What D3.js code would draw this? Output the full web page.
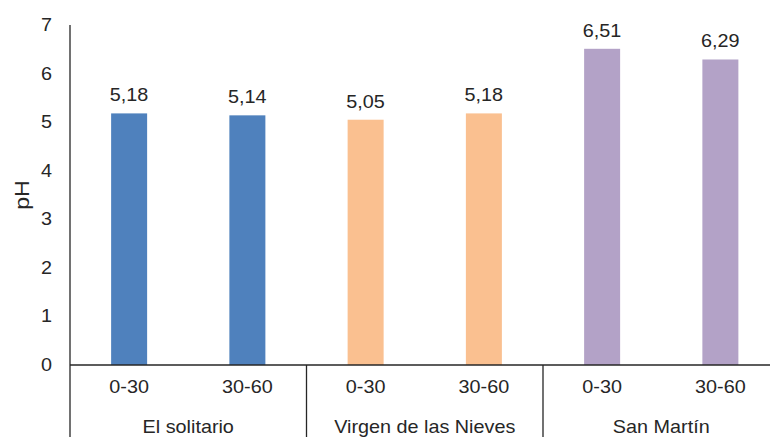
<!DOCTYPE html>
<html>
<head>
<meta charset="utf-8">
<script src="https://cdn.jsdelivr.net/npm/d3@7"></script>
<style>
  html, body { margin: 0; padding: 0; background: #fff; }
  svg text { font-family: "Liberation Sans", Arial, sans-serif; fill: #262626; }
</style>
</head>
<body>
<svg id="chart" width="770" height="437"></svg>
<script>
// Soil pH by site and sampling depth
const sites = ["El solitario", "Virgen de las Nieves", "San Martín"];
const depths = ["0-30", "30-60"];
const phValues = [5.18, 5.14, 5.05, 5.18, 6.51, 6.29];
const siteColors = ["#4F81BD", "#FAC090", "#B3A2C7"];
const yTicks = [0, 1, 2, 3, 4, 5, 6, 7];

const rows = [];
sites.forEach((s, i) => depths.forEach((d, j) => {
  rows.push({ site: s, siteIndex: i, depth: d, key: s + "|" + d, value: phValues[i * depths.length + j] });
}));

const svg = d3.select("#chart");
const plotLeft = 70, plotRight = 779.5, plotTop = 25, plotBase = 365, plotBottom = 437;

const x = d3.scaleBand().domain(rows.map(r => r.key)).range([plotLeft, plotRight]);
const y = d3.scaleLinear().domain([0, 7]).range([plotBase, plotTop]);
const barW = 36;
const fmt = v => d3.format(".2f")(v).replace(".", ",");

// labels are slightly widened horizontally
const widen = 1.1;
function placeText(sel, fx, fy) {
  return sel.attr("transform", (d, i) => `translate(${fx(d, i)},${fy(d, i)}) scale(${widen},1)`);
}

// bars
svg.append("g").selectAll("rect").data(rows).join("rect")
  .attr("x", d => x(d.key) + x.bandwidth() / 2 - barW / 2)
  .attr("y", d => y(d.value))
  .attr("width", barW)
  .attr("height", d => y(0) - y(d.value))
  .attr("fill", d => siteColors[d.siteIndex]);

// value labels
placeText(svg.append("g").selectAll("text").data(rows).join("text"),
    d => x(d.key) + x.bandwidth() / 2, d => y(d.value) - 12)
  .attr("text-anchor", "middle")
  .attr("font-size", 18)
  .text(d => fmt(d.value));

// y axis tick labels
placeText(svg.append("g").selectAll("text").data(yTicks).join("text"),
    () => plotLeft - 18, d => y(d) + 6)
  .attr("text-anchor", "end")
  .attr("font-size", 18)
  .text(d => d3.format("d")(d));

svg.append("line").attr("x1", plotLeft).attr("x2", plotLeft).attr("y1", plotTop).attr("y2", plotBottom)
  .attr("stroke", "#262626").attr("stroke-width", 1.3);

// baseline
svg.append("line").attr("x1", plotLeft).attr("x2", plotRight).attr("y1", plotBase).attr("y2", plotBase)
  .attr("stroke", "#262626").attr("stroke-width", 1.3);

// group separators
const groupW = x.bandwidth() * depths.length;
svg.append("g").selectAll("line").data(sites.slice(1)).join("line")
  .attr("x1", (d, i) => plotLeft + groupW * (i + 1))
  .attr("x2", (d, i) => plotLeft + groupW * (i + 1))
  .attr("y1", plotBase).attr("y2", plotBottom)
  .attr("stroke", "#262626").attr("stroke-width", 1.3);

// depth labels
placeText(svg.append("g").selectAll("text").data(rows).join("text"),
    d => x(d.key) + x.bandwidth() / 2, () => 393)
  .attr("text-anchor", "middle")
  .attr("font-size", 18)
  .text(d => d.depth);

// site labels
placeText(svg.append("g").selectAll("text").data(sites).join("text"),
    (d, i) => plotLeft + groupW * (i + 0.5), () => 433)
  .attr("text-anchor", "middle")
  .attr("font-size", 18)
  .text(d => d);

// y axis title
svg.append("text")
  .attr("transform", `translate(29,${(plotTop + plotBase) / 2}) rotate(-90) scale(${widen},1)`)
  .attr("text-anchor", "middle")
  .attr("font-size", 21)
  .text("pH");
</script>
</body>
</html>
